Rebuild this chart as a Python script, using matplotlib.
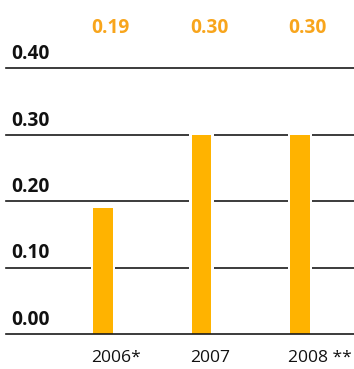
import matplotlib
matplotlib.use("Agg")
import matplotlib.pyplot as plt

categories = ["2006*", "2007", "2008 **"]
values = [0.19, 0.30, 0.30]
value_labels = ["0.19", "0.30", "0.30"]
yticks = [0.0, 0.1, 0.2, 0.3, 0.4]
ytick_labels = ["0.00", "0.10", "0.20", "0.30", "0.40"]

BAR = "#FFB300"
LABEL = "#F8A51C"
LINE = "#1a1a1a"
FONT = "Open Sans"

W, H = 354, 369
fig = plt.figure(figsize=(W / 100, H / 100), dpi=100)
ax = fig.add_axes([6 / W, (H - 334) / H, (W - 6) / W, (334 - 68) / H])
ax.set_xlim(-0.985, 2.548)
ax.set_ylim(0, 0.4)
ax.axis("off")

xs = list(range(len(categories)))
bw = 0.195
gap = 0.055

for y, lab in zip(yticks, ytick_labels):
    ax.axhline(y, color=LINE, lw=1.2, zorder=1 if y > 0 else 5, clip_on=False)
    ax.annotate(lab, xy=(0, y), xycoords=("axes fraction", "data"),
                xytext=(5, 4), textcoords="offset pixels",
                ha="left", va="bottom", fontsize=13.8, fontweight="bold",
                family=FONT, color="#111111")

# white gaps around bars where grid lines pass
ax.bar(xs, [v + 0.003 for v in values], width=bw + gap, color="white", zorder=2, align="center")
bars = ax.bar(xs, values, width=bw, color=BAR, zorder=3, align="center")

for x, lab in zip(xs, value_labels):
    ax.annotate(lab, xy=(x - bw / 2, 1), xycoords=("data", "axes fraction"),
                xytext=(-2, 30), textcoords="offset pixels",
                ha="left", va="bottom", fontsize=13.8, fontweight="bold",
                family=FONT, color=LABEL)

for x, cat in zip(xs, categories):
    ax.annotate(cat, xy=(x - bw / 2, 0), xycoords=("data", "axes fraction"),
                xytext=(-2, -16), textcoords="offset pixels",
                ha="left", va="top", fontsize=12.6,
                family=FONT, color="#111111")

fig.savefig("out.png", dpi=100)
